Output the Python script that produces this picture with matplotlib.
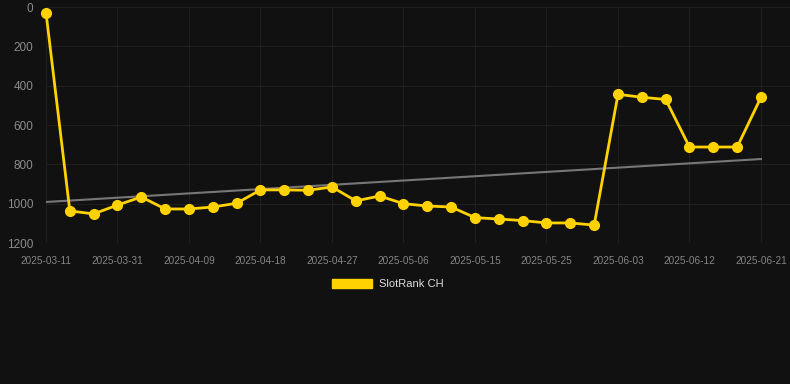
import numpy as np
import matplotlib
matplotlib.use("Agg")
import matplotlib.pyplot as plt
from matplotlib.patches import Patch

# Data (rank, lower is better)
dates = [
    "2025-03-11", "2025-03-24", "2025-03-28", "2025-03-31", "2025-04-03",
    "2025-04-06", "2025-04-09", "2025-04-12", "2025-04-15", "2025-04-18",
    "2025-04-21", "2025-04-24", "2025-04-27", "2025-04-30", "2025-05-03",
    "2025-05-06", "2025-05-09", "2025-05-12", "2025-05-15", "2025-05-18",
    "2025-05-22", "2025-05-25", "2025-05-28", "2025-05-31", "2025-06-03",
    "2025-06-06", "2025-06-09", "2025-06-12", "2025-06-15", "2025-06-18",
    "2025-06-21",
]
ranks = [
    29, 1037, 1052, 1007, 966, 1027, 1027, 1017, 998, 930,
    930, 932, 915, 986, 961, 1000, 1012, 1017, 1071, 1078,
    1086, 1098, 1098, 1109, 444, 459, 470, 712, 712, 712,
    459,
]
series_name = "SlotRank CH"
y_ticks = [0, 200, 400, 600, 800, 1000, 1200]

BG = "#111111"
GOLD = "#FFD200"

plt.rcParams["font.family"] = ["Liberation Sans", "DejaVu Sans"]

fig = plt.figure(figsize=(7.9, 3.84), dpi=100, facecolor=BG)
ax = fig.add_axes([46 / 790, 1 - 243 / 384, (790 - 46) / 790, 236 / 384])
ax.set_facecolor(BG)

x = np.arange(len(ranks))

# linear trend of the series
coef = np.polyfit(x, ranks, 1)
ax.plot(x, np.polyval(coef, x), color="#777777", lw=1.5, zorder=2)

ax.plot(x, ranks, color=GOLD, lw=2.0, marker="o", markersize=7,
        zorder=3, clip_on=False)

ax.set_ylim(1200, 0)
ax.set_xlim(0, 30 + 29 / 23.83)
ax.set_yticks(y_ticks)
tick_idx = list(range(0, len(dates), 3))
ax.set_xticks(tick_idx)
ax.set_xticklabels([dates[i] for i in tick_idx])

ax.grid(True, color="#1f1f1f", lw=0.8)
ax.set_axisbelow(True)
for s in ax.spines.values():
    s.set_visible(False)
ax.tick_params(axis="x", length=0, pad=9, labelsize=7.2, labelcolor="#858585")
ax.tick_params(axis="y", length=0, pad=9, labelsize=8.5, labelcolor="#8c8c8c")

handle = Patch(facecolor=GOLD, edgecolor=GOLD)
fig.legend([handle], [series_name], loc="center",
           bbox_to_anchor=(0.5 - 7 / 790, 1 - 284 / 384),
           frameon=False, fontsize=8, labelcolor="#dddddd",
           handlelength=3.6, handleheight=0.9, handletextpad=0.6)

fig.savefig("out.png", facecolor=BG)
